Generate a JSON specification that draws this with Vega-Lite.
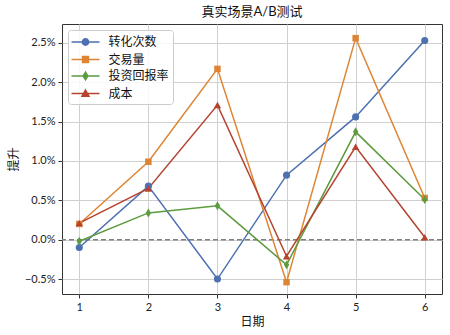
{
  "$schema": "https://vega.github.io/schema/vega-lite/v6.json",
  "width": 380,
  "height": 270,
  "autosize": {"type": "none"},
  "padding": {"left": 62, "top": 24, "right": 8, "bottom": 41},
  "background": "white",
  "title": {"text": "真实场景A/B测试", "fontSize": 13, "fontWeight": "normal", "color": "#111111", "offset": 5},
  "config": {
    "font": "Lato, 'Noto Sans CJK SC', sans-serif",
    "view": {"stroke": "#333333", "strokeWidth": 1},
    "axis": {
      "domain": false,
      "gridColor": "#d0d0d0",
      "gridWidth": 1,
      "tickColor": "#333333",
      "tickSize": 4,
      "labelFontSize": 11,
      "labelColor": "#222222",
      "labelPadding": 3,
      "titleFontSize": 12,
      "titleFontWeight": "normal",
      "titleColor": "#111111"
    }
  },
  "datasets": {
    "d": [
      {"date": 1, "series": "转化次数", "value": -0.0010},
      {"date": 2, "series": "转化次数", "value": 0.0068},
      {"date": 3, "series": "转化次数", "value": -0.0050},
      {"date": 4, "series": "转化次数", "value": 0.0082},
      {"date": 5, "series": "转化次数", "value": 0.0156},
      {"date": 6, "series": "转化次数", "value": 0.0253},
      {"date": 1, "series": "交易量", "value": 0.0020},
      {"date": 2, "series": "交易量", "value": 0.0099},
      {"date": 3, "series": "交易量", "value": 0.0217},
      {"date": 4, "series": "交易量", "value": -0.0054},
      {"date": 5, "series": "交易量", "value": 0.0256},
      {"date": 6, "series": "交易量", "value": 0.0053},
      {"date": 1, "series": "投资回报率", "value": -0.0002},
      {"date": 2, "series": "投资回报率", "value": 0.0034},
      {"date": 3, "series": "投资回报率", "value": 0.0043},
      {"date": 4, "series": "投资回报率", "value": -0.0032},
      {"date": 5, "series": "投资回报率", "value": 0.0137},
      {"date": 6, "series": "投资回报率", "value": 0.0051},
      {"date": 1, "series": "成本", "value": 0.0021},
      {"date": 2, "series": "成本", "value": 0.0065},
      {"date": 3, "series": "成本", "value": 0.0171},
      {"date": 4, "series": "成本", "value": -0.0021},
      {"date": 5, "series": "成本", "value": 0.0118},
      {"date": 6, "series": "成本", "value": 0.0003}
    ],
    "zero": [{"v": 0}]
  },
  "encoding": {
    "x": {
      "field": "date", "type": "quantitative", "title": "日期",
      "scale": {"domain": [0.75, 6.25], "nice": false, "zero": false},
      "axis": {"values": [1, 2, 3, 4, 5, 6], "format": "d"}
    },
    "y": {
      "field": "value", "type": "quantitative", "title": "提升",
      "scale": {"domain": [-0.0069, 0.0274], "nice": false, "zero": false},
      "axis": {"values": [-0.005, 0, 0.005, 0.01, 0.015, 0.02, 0.025], "format": ".1%"}
    }
  },
  "layer": [
    {
      "data": {"name": "d"},
      "mark": {"type": "point", "filled": true, "opacity": 1, "size": 0},
      "encoding": {
        "fill": {"field": "series", "type": "nominal",
          "scale": {"domain": ["转化次数", "交易量", "投资回报率", "成本"], "range": ["#4c70b0", "#de8535", "#5c9b3e", "#b5432f"]},
          "legend": {
            "title": null, "orient": "top-left", "offset": 6,
            "padding": 4, "rowPadding": 2.5, "cornerRadius": 3,
            "fillColor": "rgba(255,255,255,0.85)", "strokeColor": "#cccccc",
            "symbolSize": 196, "symbolStrokeWidth": 1.5, "symbolOffset": 5.5,
            "labelFontSize": 12, "labelOffset": 15, "labelColor": "#111111",
            "labelFont": "'Noto Sans CJK SC', sans-serif"
          }},
        "stroke": {"field": "series", "type": "nominal",
          "scale": {"domain": ["转化次数", "交易量", "投资回报率", "成本"], "range": ["#4c70b0", "#de8535", "#5c9b3e", "#b5432f"]}},
        "shape": {"field": "series", "type": "nominal",
          "scale": {"domain": ["转化次数", "交易量", "投资回报率", "成本"],
            "range": [
              "M-2,0H2M0.45,0A0.45,0.45 0 1,1 -0.45,0A0.45,0.45 0 1,1 0.45,0Z",
              "M-2,0H2M-0.42,-0.42H0.42V0.42H-0.42Z",
              "M-2,0H2M0,-0.55L0.33,0L0,0.55L-0.33,0Z",
              "M-2,0H2M0,-0.5L0.5,0.4H-0.5Z"
            ]}}
      }
    },
    {
      "data": {"name": "zero"},
      "mark": {"type": "rule", "color": "#808080", "strokeWidth": 1.5, "strokeDash": [5, 3]},
      "encoding": {"y": {"field": "v", "type": "quantitative"}, "x": null}
    },
    {
      "data": {"name": "d"},
      "mark": {"type": "line", "strokeWidth": 1.5},
      "encoding": {
        "color": {"field": "series", "type": "nominal", "legend": null,
          "scale": {"domain": ["转化次数", "交易量", "投资回报率", "成本"], "range": ["#4c70b0", "#de8535", "#5c9b3e", "#b5432f"]}},
        "order": {"field": "date"}
      }
    },
    {
      "data": {"name": "d"},
      "transform": [{"filter": "datum.series === '转化次数'"}],
      "mark": {"type": "point", "filled": true, "opacity": 1, "shape": "circle", "size": 50, "color": "#4c70b0"}
    },
    {
      "data": {"name": "d"},
      "transform": [{"filter": "datum.series === '交易量'"}],
      "mark": {"type": "point", "filled": true, "opacity": 1, "shape": "square", "size": 42, "color": "#de8535"}
    },
    {
      "data": {"name": "d"},
      "transform": [{"filter": "datum.series === '投资回报率'"}],
      "mark": {"type": "point", "filled": true, "opacity": 1, "shape": "M0,-1L0.6,0L0,1L-0.6,0Z", "size": 80, "color": "#5c9b3e"}
    },
    {
      "data": {"name": "d"},
      "transform": [{"filter": "datum.series === '成本'"}],
      "mark": {"type": "point", "filled": true, "opacity": 1, "shape": "triangle-up", "size": 55, "color": "#b5432f"}
    }
  ]
}
